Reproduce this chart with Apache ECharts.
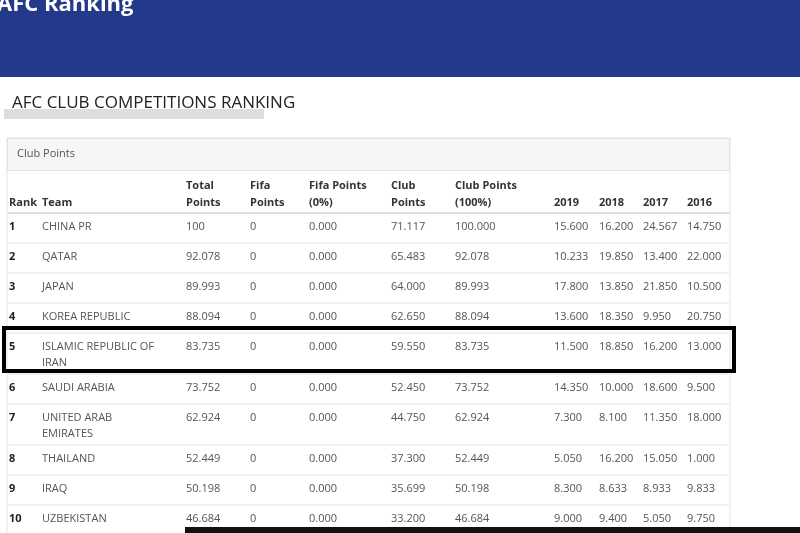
<!DOCTYPE html>
<html><head><meta charset="utf-8">
<script src="https://cdn.jsdelivr.net/npm/echarts@6/dist/echarts.min.js"></script>
<style>html,body{margin:0;padding:0;background:#fff}#c{width:800px;height:533px}</style>
</head><body><div id="c"></div>
<script>
const ranks = [1,2,3,4,5,6,7,8,9,10];
const teams = ['CHINA PR','QATAR','JAPAN','KOREA REPUBLIC','ISLAMIC REPUBLIC OF\nIRAN','SAUDI ARABIA','UNITED ARAB\nEMIRATES','THAILAND','IRAQ','UZBEKISTAN'];
const totalPoints = [100,92.078,89.993,88.094,83.735,73.752,62.924,52.449,50.198,46.684];
const fifaPoints = [0,0,0,0,0,0,0,0,0,0];
const fifaPct = [0,0,0,0,0,0,0,0,0,0];
const clubPoints = [71.117,65.483,64.000,62.650,59.550,52.450,44.750,37.300,35.699,33.200];
const clubPct = [100,92.078,89.993,88.094,83.735,73.752,62.924,52.449,50.198,46.684];
const y2019 = [15.600,10.233,17.800,13.600,11.500,14.350,7.300,5.050,8.300,9.000];
const y2018 = [16.200,19.850,13.850,18.350,18.850,10.000,8.100,16.200,8.633,9.400];
const y2017 = [24.567,13.400,21.850,9.950,16.200,18.600,11.350,15.050,8.933,5.050];
const y2016 = [14.750,22.000,10.500,20.750,13.000,9.500,18.000,1.000,9.833,9.750];
const headers = ['Rank','Team','Total\nPoints','Fifa\nPoints','Fifa Points\n(0%)','Club\nPoints','Club Points\n(100%)','2019','2018','2017','2016'];

const colX = [9,42,186,250,309,391,455,554,599,643,687];
const f3 = v => v.toFixed(3);
const cols = [
  i => String(ranks[i]), i => teams[i],
  i => totalPoints[i]===100 ? '100' : f3(totalPoints[i]),
  i => String(fifaPoints[i]), i => f3(fifaPct[i]),
  i => f3(clubPoints[i]), i => f3(clubPct[i]),
  i => f3(y2019[i]), i => f3(y2018[i]), i => f3(y2017[i]), i => f3(y2016[i])
];
const FONT = '"Open Sans", sans-serif';
const els = [];
els.push({type:'rect',shape:{x:0,y:0,width:800,height:77},style:{fill:'#24398a'}});
els.push({type:'text',x:-3,y:-6,style:{text:'AFC Ranking',fill:'#fff',font:'bold 22px '+FONT}});
els.push({type:'rect',shape:{x:4,y:109,width:260,height:10},style:{fill:'#dedede'}});
els.push({type:'text',x:12,y:95,style:{text:'AFC CLUB COMPETITIONS RANKING',fill:'#222',font:'17px '+FONT}});
els.push({type:'rect',shape:{x:7,y:138,width:723,height:400},style:{fill:'#fff',stroke:'#e3e3e3',lineWidth:1}});
els.push({type:'rect',shape:{x:7.5,y:138.5,width:722,height:32},style:{fill:'#f6f6f6',stroke:'#e3e3e3',lineWidth:1}});
els.push({type:'text',x:17,y:148,style:{text:'Club Points',fill:'#555',font:'11px '+FONT}});
headers.forEach((h,c)=>{
  const two = h.indexOf('\n')>=0;
  els.push({type:'text',x:colX[c],y:two?177:194,style:{text:h,fill:'#333',font:'bold 11px '+FONT,lineHeight:17}});
});
els.push({type:'line',shape:{x1:8,y1:213,x2:729,y2:213},style:{stroke:'#ddd',lineWidth:2}});
let rowTop = 214;
const rowStart = [];
teams.forEach((t,i)=>{
  const h = t.indexOf('\n')>=0 ? 41 : 30;
  rowStart.push(rowTop);
  cols.forEach((fn,c)=>{
    els.push({type:'text',x:colX[c],y:rowTop+5,style:{text:fn(i),fill:c===0?'#222':'#555',font:(c===0?'bold ':'')+'11px '+FONT,lineHeight:16}});
  });
  rowTop += h;
  els.push({type:'line',shape:{x1:8,y1:rowTop-1,x2:729,y2:rowTop-1},style:{stroke:'#e2e2e2',lineWidth:1}});
});
els.push({type:'rect',shape:{x:4,y:rowStart[4]-6,width:730,height:43},style:{fill:'none',stroke:'#000',lineWidth:4}});
els.push({type:'rect',shape:{x:185,y:527,width:615,height:6},style:{fill:'#111'}});

const chart = echarts.init(document.getElementById('c'));
chart.setOption({animation:false,graphic:{elements:els}});
</script></body></html>
